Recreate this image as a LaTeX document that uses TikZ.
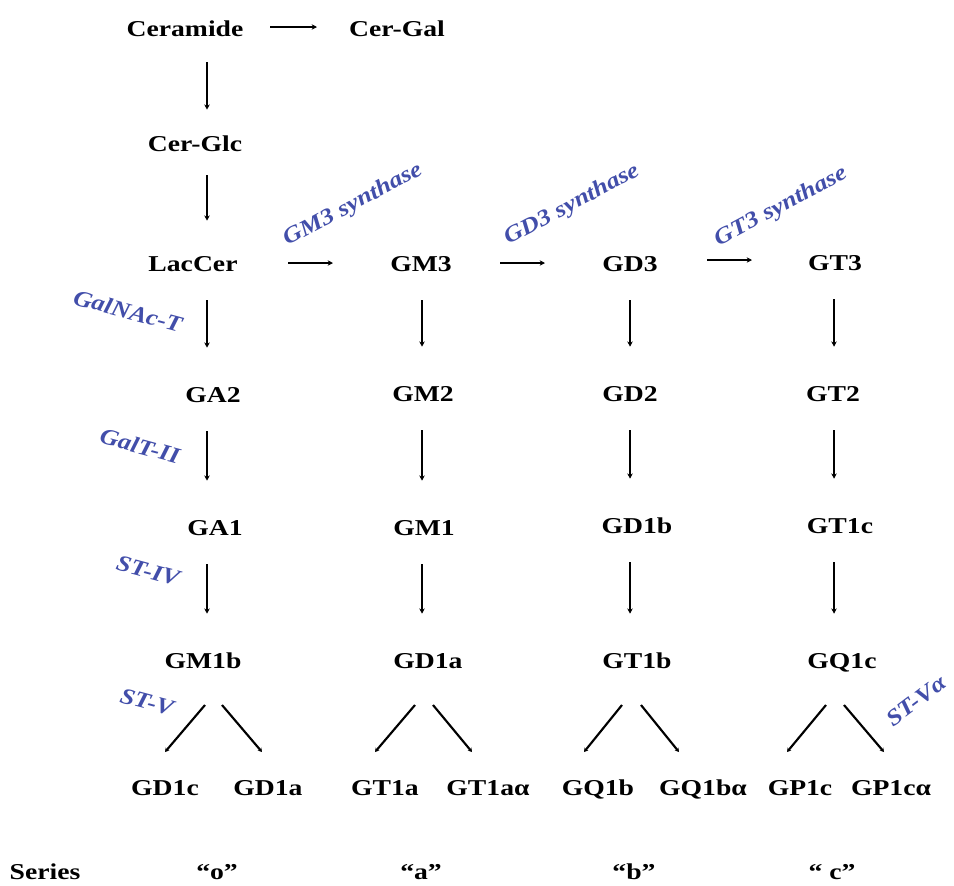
\documentclass[tikz,border=0pt]{standalone}
\usepackage{fontspec}
\setmainfont{Liberation Serif}
\usetikzlibrary{arrows.meta,calc}
\definecolor{enz}{RGB}{66,78,170}
\begin{document}
\begin{tikzpicture}[x=0.75pt,y=-0.75pt,
  mol/.style={font=\bfseries\fontsize{17}{20}\selectfont, xscale=1.22, inner sep=0pt, text height=12pt, text depth=0pt},
  enzl/.style={font=\bfseries\itshape\fontsize{17}{20}\selectfont, text=enz, inner sep=0pt},
  arr/.style={line width=1.4pt, -{Stealth[length=4pt,width=4pt]}},
  varr/.style={arr, shorten <=21.75pt, shorten >=28.5pt},
  dline/.style={line width=1.6pt, -{Stealth[length=3pt,width=3.5pt]}}]
\useasboundingbox (0,0) rectangle (954,886);
% column guides
\coordinate (colo) at (207,0);
\coordinate (cola) at (422,0);
\coordinate (colb) at (630,0);
\coordinate (colc) at (834,0);
% top
\node[mol] (ceramide) at (185,28) {Ceramide};
\node[mol] (cergal) at (397,28) {Cer-Gal};
\node[mol] (cerglc) at (195,143) {Cer-Glc};
\node[mol] (laccer) at (193,263) {LacCer};
\node[mol] (gm3) at (421,263) {GM3};
\node[mol] (gd3) at (630,263) {GD3};
\node[mol] (gt3) at (835,262) {GT3};
% row 2
\node[mol] (ga2) at (213,394) {GA2};
\node[mol] (gm2) at (423,393) {GM2};
\node[mol] (gd2) at (630,393) {GD2};
\node[mol] (gt2) at (833,393) {GT2};
% row 3
\node[mol] (ga1) at (215,527) {GA1};
\node[mol] (gm1) at (424,527) {GM1};
\node[mol] (gd1b) at (637,525) {GD1b};
\node[mol] (gt1c) at (840,525) {GT1c};
% row 4
\node[mol] (gm1b) at (203,660) {GM1b};
\node[mol] (gd1a) at (428,660) {GD1a};
\node[mol] (gt1b) at (637,660) {GT1b};
\node[mol] (gq1c) at (842,660) {GQ1c};
% bottom row
\node[mol] (b1) at (165,787) {GD1c};
\node[mol] (b2) at (268,787) {GD1a};
\node[mol] (b3) at (385,787) {GT1a};
\node[mol] (b4) at (488,787) {GT1aα};
\node[mol] (b5) at (598,787) {GQ1b};
\node[mol] (b6) at (703,787) {GQ1bα};
\node[mol] (b7) at (800,787) {GP1c};
\node[mol] (b8) at (891,787) {GP1cα};
% series
\node[mol] (series) at (45,871) {Series};
\node[mol] (so) at (217,871) {“o”};
\node[mol] (sa) at (421,871) {“a”};
\node[mol] (sb) at (634,871) {“b”};
\node[mol] (sc) at (832,871) {“ c”};
% enzyme labels
\node[enzl, rotate=28, xscale=1.15] (e1) at (353,205) {GM3 synthase};
\node[enzl, rotate=28, xscale=1.15] (e2) at (572,205) {GD3 synthase};
\node[enzl, rotate=28, xscale=1.15] (e3) at (781,207) {GT3 synthase};
\node[enzl, rotate=-15, xscale=1.15] (e4) at (128,311) {GalNAc-T};
\node[enzl, rotate=-15, xscale=1.15] (e5) at (140,446) {GalT-II};
\node[enzl, rotate=-15, xscale=1.15] (e6) at (148,571) {ST-IV};
\node[enzl, rotate=-15, xscale=1.15] (e7) at (147,702) {ST-V};
\node[enzl, rotate=37, xscale=1.15] (e8) at (916,701) {ST-Vα};
% horizontal arrows
\draw[arr] ($(ceramide)+(85,-1)$) -- ($(cergal)+(-80,-1)$);
\draw[arr] ($(laccer)+(95,0)$) -- ($(gm3)+(-88,0)$);
\draw[arr] ($(gm3)+(79,0)$) -- ($(gd3)+(-85,0)$);
\draw[arr] ($(gd3)+(77,-3)$) -- ($(gt3)+(-83,-2)$);
% vertical arrows
\draw[arr, shorten <=19.5pt, shorten >=18.75pt] (ceramide.south -| colo) -- (cerglc.north -| colo);
\draw[arr, shorten <=18pt, shorten >=25.5pt] (cerglc.south -| colo) -- (laccer.north -| colo);
\draw[varr] (laccer.south -| colo) -- (ga2.north -| colo);
\draw[varr] (ga2.south -| colo) -- (ga1.north -| colo);
\draw[varr] (ga1.south -| colo) -- (gm1b.north -| colo);
\draw[varr] (gm3.south -| cola) -- (gm2.north -| cola);
\draw[varr] (gm2.south -| cola) -- (gm1.north -| cola);
\draw[varr] (gm1.south -| cola) -- (gd1a.north -| cola);
\draw[varr] (gd3.south -| colb) -- (gd2.north -| colb);
\draw[varr] (gd2.south -| colb) -- (gd1b.north -| colb);
\draw[varr] (gd1b.south -| colb) -- (gt1b.north -| colb);
\draw[varr] (gt3.south -| colc) -- (gt2.north -| colc);
\draw[varr] (gt2.south -| colc) -- (gt1c.north -| colc);
\draw[varr] (gt1c.south -| colc) -- (gq1c.north -| colc);
% branch lines
\draw[dline] ($(gm1b)+(2,45)$) -- ($(b1)+(0,-35)$);
\draw[dline] ($(gm1b)+(19,45)$) -- ($(b2)+(-6,-35)$);
\draw[dline] ($(gd1a)+(-13,45)$) -- ($(b3)+(-10,-35)$);
\draw[dline] ($(gd1a)+(5,45)$) -- ($(b4)+(-16,-35)$);
\draw[dline] ($(gt1b)+(-15,45)$) -- ($(b5)+(-14,-35)$);
\draw[dline] ($(gt1b)+(4,45)$) -- ($(b6)+(-24,-35)$);
\draw[dline] ($(gq1c)+(-16,45)$) -- ($(b7)+(-13,-35)$);
\draw[dline] ($(gq1c)+(2,45)$) -- ($(b8)+(-7,-35)$);
\end{tikzpicture}
\end{document}
